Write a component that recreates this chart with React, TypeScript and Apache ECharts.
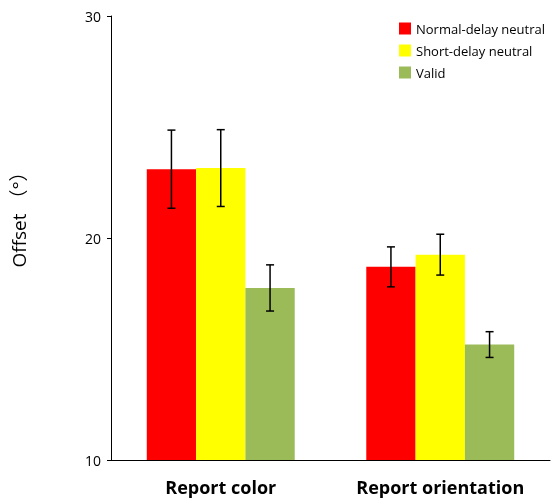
import React, { useEffect, useRef } from "react";
import * as echarts from "echarts";

const categories = ["Report color", "Report orientation"];
const seriesNames = ["Normal-delay neutral", "Short-delay neutral", "Valid"];
const colors = ["#ff0000", "#ffff00", "#9bbb59"];
const means = [
  [23.1, 18.7],
  [23.15, 19.25],
  [17.75, 15.2],
];
const errors = [
  [1.76, 0.9],
  [1.73, 0.92],
  [1.04, 0.58],
];
const yTicks = [10, 20, 30];

const CAT_GAP = 0.326;

export default function App() {
  const ref = useRef<HTMLDivElement>(null);
  useEffect(() => {
    if (!ref.current) return;
    const chart = echarts.init(ref.current, undefined, { renderer: "svg" });
    const n = seriesNames.length;
    const barSeries = seriesNames.map((name, i) => ({
      name,
      type: "bar",
      data: means[i],
      itemStyle: { color: colors[i] },
      barGap: "0%",
      barCategoryGap: CAT_GAP * 100 + "%",
    }));
    const errSeries = seriesNames.map((name, i) => ({
      name: name + "-err",
      type: "custom",
      z: 10,
      data: categories.map((_, j) => [j, means[i][j] - errors[i][j], means[i][j] + errors[i][j]]),
      renderItem: (params: any, api: any) => {
        const idx = api.value(0);
        const band = api.size([1, 0])[0];
        const bw = (band * (1 - CAT_GAP)) / n;
        const lo = api.coord([idx, api.value(1)]);
        const hi = api.coord([idx, api.value(2)]);
        const x = lo[0] + (i - (n - 1) / 2) * bw;
        const cap = 4;
        const style = { stroke: "#000", lineWidth: 1.5 };
        return {
          type: "group",
          children: [
            { type: "line", shape: { x1: x, y1: hi[1], x2: x, y2: lo[1] }, style },
            { type: "line", shape: { x1: x - cap, y1: hi[1], x2: x + cap, y2: hi[1] }, style },
            { type: "line", shape: { x1: x - cap, y1: lo[1], x2: x + cap, y2: lo[1] }, style },
          ],
        };
      },
      encode: { x: 0, y: [1, 2] },
    }));
    chart.setOption({
      animation: false,
      textStyle: { fontFamily: "Open Sans, Noto Sans CJK SC, sans-serif" },
      grid: { left: 111, right: 4, top: 16, bottom: 44 },
      legend: {
        data: seriesNames,
        orient: "vertical",
        left: 394,
        top: 17,
        itemWidth: 12,
        itemHeight: 12,
        itemGap: 9,
        icon: "rect",
        textStyle: { fontSize: 13, color: "#000" },
      },
      xAxis: {
        type: "category",
        data: categories,
        axisLine: { lineStyle: { color: "#000", width: 1 } },
        axisTick: { show: false },
        axisLabel: { fontSize: 18, fontWeight: "bold", color: "#000", margin: 18 },
      },
      yAxis: {
        type: "value",
        min: yTicks[0],
        max: yTicks[yTicks.length - 1],
        interval: 10,
        name: "Offset （°）",
        nameLocation: "middle",
        nameGap: 83,
        nameTextStyle: { fontSize: 19, color: "#000", padding: [0, 0, 0, 46] },
        axisLine: { show: true, lineStyle: { color: "#000", width: 1 } },
        axisTick: { show: true, length: 4, lineStyle: { color: "#000" } },
        axisLabel: { fontSize: 14, color: "#000", margin: 10 },
        splitLine: { show: false },
      },
      series: [...barSeries, ...errSeries],
    });
    return () => chart.dispose();
  }, []);
  return (
    <div
      ref={ref}
      style={{ position: "fixed", left: 0, top: 0, width: 554, height: 504 }}
    />
  );
}
